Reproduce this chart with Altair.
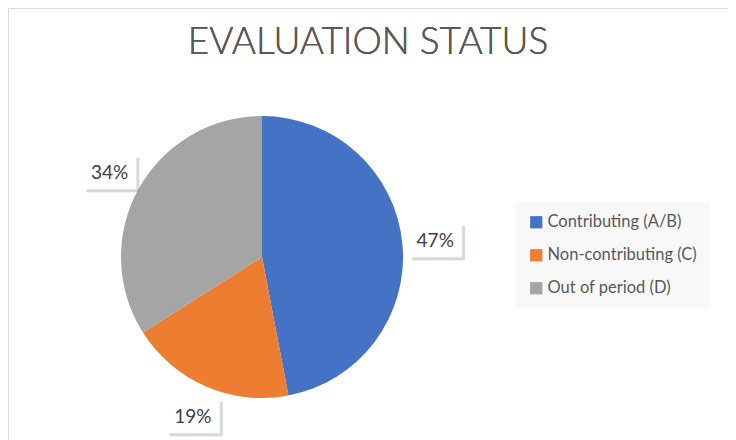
import altair as alt
import pandas as pd

categories = ["Contributing (A/B)", "Non-contributing (C)", "Out of period (D)"]
values = [47, 19, 34]
colors = ["#4472C4", "#ED7D31", "#A5A5A5"]
order = [1, 2, 3]

df = pd.DataFrame({"category": categories, "value": values, "order": order})

CX, CY = 254, 249
FONT = "Lato"

theta = alt.Theta("value:Q", stack=True)
color = alt.Color(
    "category:N",
    scale=alt.Scale(domain=categories, range=colors),
    legend=alt.Legend(
        title=None,
        orient="none",
        legendX=508,
        legendY=194,
        symbolType="square",
        symbolSize=150,
        symbolStrokeWidth=0,
        labelFont=FONT,
        labelFontSize=16.5,
        labelColor="#595959",
        labelOffset=3,
        rowPadding=16,
        padding=12,
        fillColor="#f8f8f8",
        labelExpr="datum.label + '           '",
        labelLimit=400,
    ),
)

base = alt.Chart(df).encode(
    theta=theta,
    order=alt.Order("order:Q"),
    x=alt.value(CX),
    y=alt.value(CY),
)

pie = base.mark_arc(outerRadius=141, stroke=None).encode(color=color)

shadow = base.mark_text(
    radius=174, font="DejaVu Sans Mono", fontSize=29, dx=3, dy=3,
    baseline="middle", align="center", color="#7f7f7f", opacity=0.3,
).encode(text=alt.value("███"))

box = base.mark_text(
    radius=174, font="DejaVu Sans Mono", fontSize=29,
    baseline="middle", align="center", color="#ffffff",
).encode(text=alt.value("███"))

labels = base.transform_calculate(
    label="datum.value + '%'"
).mark_text(
    radius=174, font=FONT, fontSize=19, baseline="middle", align="center",
    color="#404040",
).encode(text="label:N")

title = alt.Chart(df).mark_text(
    font=FONT, fontSize=37, fontWeight=300, color="#595959", align="center",
    baseline="alphabetic",
).encode(x=alt.value(360), y=alt.value(46), text=alt.value("EVALUATION STATUS"))

chart = alt.layer(pie, shadow, box, labels, title).properties(
    width=720, height=440, padding=0,
).configure_view(stroke="#d9d9d9", strokeWidth=1.5).configure(background="white")

chart.save("out.html", embed_options={"renderer": "svg", "actions": False})
